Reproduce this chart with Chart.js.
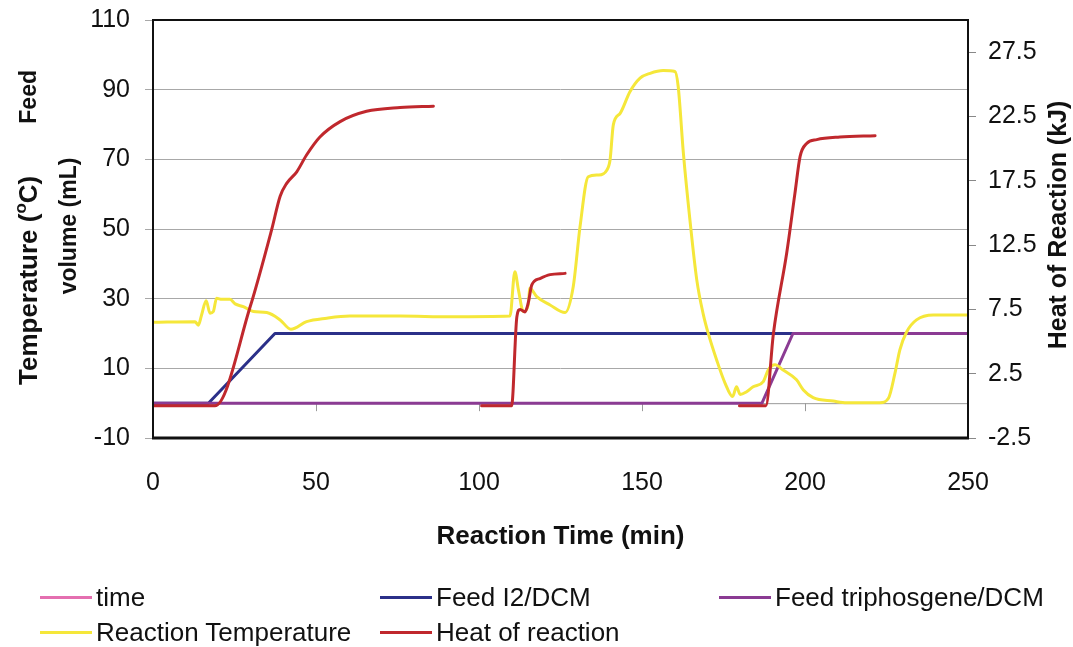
<!DOCTYPE html>
<html><head><meta charset="utf-8">
<script src="https://cdn.jsdelivr.net/npm/chart.js@4.4.1/dist/chart.umd.min.js"></script>
<style>
html,body{margin:0;padding:0;background:#fff;}
#wrap{position:relative;width:1073px;height:647px;overflow:hidden;}
canvas{position:absolute;left:0;top:0;}
.lg{position:absolute;font-family:'Liberation Sans',Arial,sans-serif;font-size:26px;color:#111;white-space:nowrap;height:30px;line-height:30px;display:flex;align-items:center;}
.lg .sw{display:inline-block;width:52px;height:3px;margin-right:4px;}
</style></head><body>
<div id="wrap"><canvas id="c" width="1073" height="647"></canvas><div id="legend"></div></div>
<script>
// ---- data ----
const xTicks = [0, 50, 100, 150, 200, 250];
const leftTicks = [-10, 10, 30, 50, 70, 90, 110];
const rightTicks = [-2.5, 2.5, 7.5, 12.5, 17.5, 22.5, 27.5];

const feedI2Time = [0, 17.0, 37.4, 196.3];
const feedI2Vol  = [0, 0, 20, 20];

const feedTriTime = [0, 186.8, 196.3, 250];
const feedTriVol  = [0, 0, 20, 20];

const tempTime = [0, 12.9, 13.9, 14.9, 16.3, 17.5, 18.5, 19.5, 21.1, 23.6, 25.2, 27.7, 30.8, 34.9, 39.0, 42.3, 47.1, 53.3, 60.4, 75.8, 91.1, 109.5, 111.0, 112.1, 113.6, 115.1, 115.6, 117.7, 121.8, 126.4, 128.9, 131.0, 133.5, 136.6, 139.2, 140.2, 141.2, 143.3, 146.3, 149.4, 152.5, 156.5, 160.1, 161.1, 162.7, 164.7, 166.8, 168.8, 170.3, 172.9, 175.5, 177.8, 179.0, 180.1, 182.1, 184.1, 187.2, 188.7, 190.8, 193.3, 197.4, 199.5, 202.5, 208.7, 212.8, 223.0, 225.6, 227.6, 229.1, 231.2, 234.2, 239.4, 250];
const tempC    = [23.2, 23.4, 22.4, 25.3, 29.4, 25.8, 26.3, 30.1, 29.8, 29.8, 28.5, 27.7, 26.3, 26.0, 23.9, 21.2, 23.4, 24.4, 25.0, 25.0, 24.8, 25.0, 37.7, 32.5, 26.3, 28.2, 33.0, 30.6, 28.2, 26.0, 33.4, 50.7, 65.0, 65.5, 66.9, 69.8, 79.9, 83.2, 89.4, 93.3, 94.7, 95.5, 95.2, 90.9, 71.7, 52.6, 35.4, 25.5, 20.1, 12.4, 5.7, 1.9, 4.7, 2.5, 3.3, 4.7, 6.2, 9.5, 11.0, 9.5, 6.7, 3.8, 1.6, 0.6, 0.1, 0.1, 1.4, 8.6, 15.3, 20.5, 23.9, 25.3, 25.3];

const heat1Time = [0, 19.0, 29.8, 36.4, 39.0, 41.0, 44.1, 47.1, 51.2, 57.4, 65.5, 75.8, 86.0];
const heat1KJ   = [0, 0, 7.7, 13.7, 16.3, 17.3, 18.2, 19.5, 20.9, 22.1, 22.9, 23.2, 23.3];
const heat2Time = [100.8, 110.0, 111.6, 112.6, 114.1, 115.1, 116.2, 118.7, 121.8, 126.4];
const heat2KJ   = [0, 0, 6.9, 7.5, 7.3, 8.0, 9.4, 9.9, 10.2, 10.3];
const heat3Time = [179.9, 188.0, 190.3, 194.4, 196.9, 198.5, 200.5, 203.6, 210.7, 221.5];
const heat3KJ   = [0, 0, 5.6, 11.9, 16.5, 19.4, 20.4, 20.7, 20.9, 21.0];

// ---- build ----
const pts = (xs, ys) => xs.map((x, i) => ({x, y: ys[i]}));
const heatData = [].concat(
  pts(heat1Time, heat1KJ), [{x: 93, y: null}],
  pts(heat2Time, heat2KJ), [{x: 150, y: null}],
  pts(heat3Time, heat3KJ)
);

const FONT = "'Liberation Sans', Arial, sans-serif";
const setTicks = arr => scale => { scale.ticks = arr.map(v => ({value: v})); };

const decor = {
  id: 'decor',
  beforeDatasetsDraw(chart) {
    const {ctx, chartArea: a, scales} = chart;
    const y0 = scales.y.getPixelForValue(0);
    ctx.save();
    ctx.strokeStyle = '#9a9a9a';
    ctx.lineWidth = 1;
    ctx.beginPath();
    ctx.moveTo(a.left, y0 + 0.5); ctx.lineTo(a.right, y0 + 0.5);
    xTicks.forEach(v => {
      const x = Math.round(scales.x.getPixelForValue(v)) + 0.5;
      ctx.moveTo(x, y0); ctx.lineTo(x, y0 + 8);
    });
    ctx.stroke();
    ctx.restore();
  },
  afterDraw(chart) {
    const {ctx, chartArea: a} = chart;
    ctx.save();
    ctx.strokeStyle = '#111';
    ctx.lineWidth = 2;
    ctx.strokeRect(a.left, a.top, a.right - a.left, a.bottom - a.top);
    ctx.lineWidth = 3;
    ctx.beginPath(); ctx.moveTo(a.left - 1, a.bottom); ctx.lineTo(a.right + 1, a.bottom); ctx.stroke();

    ctx.fillStyle = '#111';
    ctx.textBaseline = 'middle';
    // x title
    ctx.font = 'bold 26px ' + FONT;
    ctx.textAlign = 'center';
    ctx.fillText('Reaction Time (min)', (a.left + a.right) / 2, 537);
    // right title
    ctx.font = 'bold 25px ' + FONT;
    ctx.save();
    ctx.translate(1059, 225);
    ctx.rotate(-Math.PI / 2);
    ctx.fillText('Heat of Reaction (kJ)', 0, 0);
    ctx.restore();
    // left title line 2
    ctx.font = 'bold 23px ' + FONT;
    ctx.save();
    ctx.translate(70, 226);
    ctx.rotate(-Math.PI / 2);
    ctx.fillText('volume (mL)', 0, 0);
    ctx.restore();
    // left title line 1 (with superscript o)
    ctx.save();
    ctx.translate(30, 0);
    ctx.rotate(-Math.PI / 2);
    ctx.textAlign = 'left';
    let u = -385;
    const big = 'bold 26px ' + FONT, small = 'bold 17px ' + FONT;
    ctx.font = big; ctx.fillText('Temperature (', u, 0); u += ctx.measureText('Temperature (').width;
    ctx.font = small; ctx.fillText('o', u, -9); u += ctx.measureText('o').width;
    ctx.font = big; ctx.fillText('C)', u, 0);
    ctx.font = 'bold 23px ' + FONT;
    const fw = ctx.measureText('Feed').width;
    ctx.fillText('Feed', -70 - fw, 0);
    ctx.restore();
    ctx.restore();
  }
};

const noVPad = w => s => { s.width = w; s.paddingTop = 0; s.paddingBottom = 0; };

const chart = new Chart(document.getElementById('c'), {
  type: 'line',
  data: {
    datasets: [
      {label: 'time', data: [], borderColor: '#e46fb0', backgroundColor: '#e46fb0', borderWidth: 3, yAxisID: 'y', order: 5},
      {label: 'Feed I2/DCM', data: pts(feedI2Time, feedI2Vol), borderColor: '#2b3089', backgroundColor: '#2b3089', borderWidth: 3, yAxisID: 'y', order: 4, tension: 0},
      {label: 'Feed triphosgene/DCM', data: pts(feedTriTime, feedTriVol), borderColor: '#8b3b93', backgroundColor: '#8b3b93', borderWidth: 3, yAxisID: 'y', order: 3, tension: 0},
      {label: 'Reaction Temperature', data: pts(tempTime, tempC), borderColor: '#f5e73a', backgroundColor: '#f5e73a', borderWidth: 3, yAxisID: 'y', order: 2, cubicInterpolationMode: 'monotone'},
      {label: 'Heat of reaction', data: heatData, borderColor: '#c0282d', backgroundColor: '#c0282d', borderWidth: 3, yAxisID: 'y1', order: 1, cubicInterpolationMode: 'monotone', spanGaps: false}
    ]
  },
  options: {
    responsive: false,
    animation: false,
    elements: {point: {radius: 0}, line: {borderCapStyle: 'round', borderJoinStyle: 'round'}},
    layout: {padding: {top: 20, left: 0, right: 0, bottom: 0}},
    plugins: {legend: {display: false}, tooltip: {enabled: false}},
    scales: {
      x: {
        type: 'linear', min: 0, max: 250,
        afterBuildTicks: setTicks(xTicks),
        afterFit: s => { s.height = 209; },
        grid: {display: false, drawTicks: false},
        border: {display: false},
        ticks: {font: {family: FONT, size: 25}, color: '#111', padding: 30, maxRotation: 0, callback: v => String(v)}
      },
      y: {
        type: 'linear', position: 'left', min: -10, max: 110,
        afterBuildTicks: setTicks(leftTicks),
        afterFit: noVPad(153),
        grid: {color: '#a8a8a8', lineWidth: 1, drawTicks: true, tickLength: 8},
        border: {display: false},
        ticks: {font: {family: FONT, size: 25}, color: '#111', padding: 15, callback: v => String(v)}
      },
      y1: {
        type: 'linear', position: 'right', min: -2.5, max: 30,
        afterBuildTicks: setTicks(rightTicks),
        afterFit: noVPad(105),
        grid: {drawOnChartArea: false, color: '#888', drawTicks: true, tickLength: 8},
        border: {display: false},
        ticks: {font: {family: FONT, size: 25}, color: '#111', padding: 12, callback: v => v.toFixed(1)}
      }
    }
  },
  plugins: [decor]
});

// ---- HTML legend ----
const legendPos = [[40, 582], [380, 582], [719, 582], [40, 617], [380, 617]];
const lg = document.getElementById('legend');
chart.data.datasets.forEach((ds, i) => {
  const d = document.createElement('div');
  d.className = 'lg';
  d.style.left = legendPos[i][0] + 'px';
  d.style.top = legendPos[i][1] + 'px';
  const sw = document.createElement('span');
  sw.className = 'sw';
  sw.style.background = ds.borderColor;
  d.appendChild(sw);
  d.appendChild(document.createTextNode(ds.label));
  lg.appendChild(d);
});
</script>
</body></html>
